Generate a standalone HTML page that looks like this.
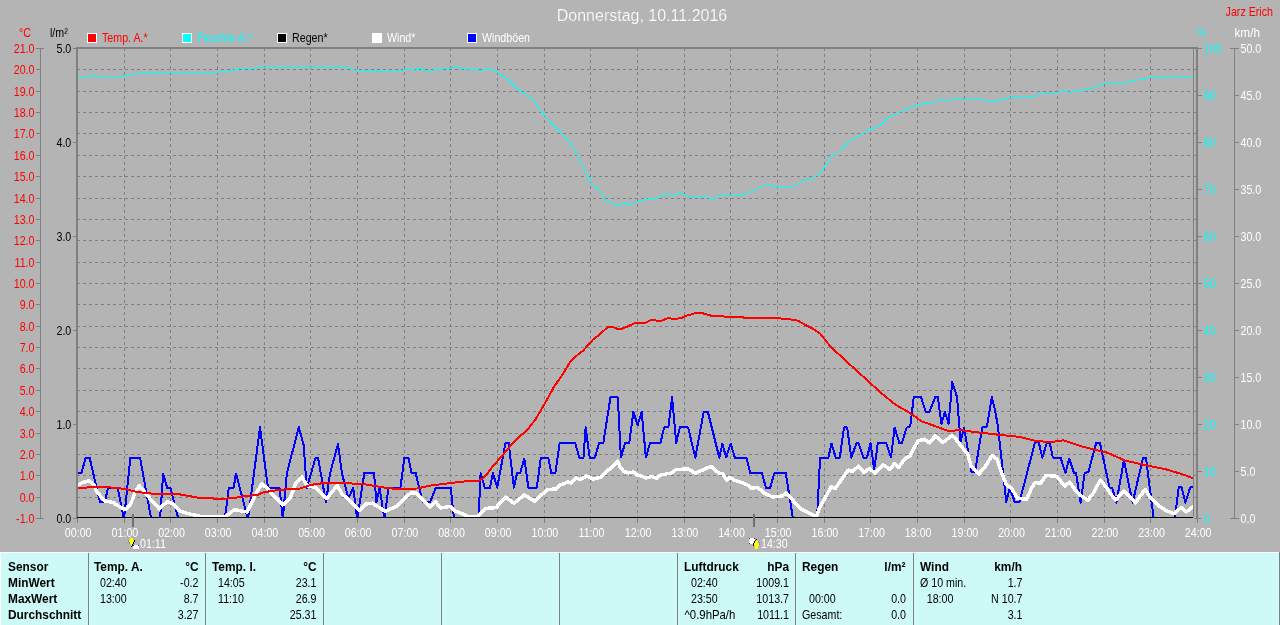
<!DOCTYPE html><html><head><meta charset="utf-8"><style>
html,body{margin:0;padding:0;background:#b4b4b4;width:1280px;height:625px;overflow:hidden}
svg{display:block;position:absolute;left:0;top:0;will-change:transform}
text{font-family:"Liberation Sans",sans-serif}
</style></head><body>
<svg width="1280" height="625" viewBox="0 0 1280 625">
<rect x="0" y="0" width="1280" height="625" fill="#b4b4b4"/>
<text x="642" y="21" text-anchor="middle" fill="#ffffff" stroke="#b4b4b4" stroke-width="0.2" style="font-size:16px">Donnerstag, 10.11.2016</text>
<text transform="translate(1273,16) scale(0.855,1)" text-anchor="end" fill="#ff0000" style="font-size:12.5px">Jarz Erich</text>
<text transform="translate(31,37) scale(0.855,1)" text-anchor="end" fill="#ff0000" style="font-size:12.5px">°C</text>
<text transform="translate(50,37) scale(0.855,1)" fill="#000000" style="font-size:12.5px">l/m²</text>
<text transform="translate(1197.5,37) scale(0.7,1)" fill="#00ffff" style="font-size:12.5px">%</text>
<text transform="translate(1234.5,37) scale(0.94,1)" fill="#ffffff" style="font-size:12.5px">km/h</text>
<rect x="87.5" y="33.5" width="9" height="9" fill="#ff0000" stroke="#ffffff" stroke-width="1" shape-rendering="crispEdges"/>
<text transform="translate(102,42) scale(0.855,1)" fill="#ff0000" style="font-size:12.5px">Temp. A.*</text>
<rect x="182.5" y="33.5" width="9" height="9" fill="#00ffff" stroke="#ffffff" stroke-width="1" shape-rendering="crispEdges"/>
<text transform="translate(197,42) scale(0.855,1)" fill="#00ffff" style="font-size:12.5px">Feuchte A.*</text>
<rect x="277.5" y="33.5" width="9" height="9" fill="#000000" stroke="#ffffff" stroke-width="1" shape-rendering="crispEdges"/>
<text transform="translate(292,42) scale(0.855,1)" fill="#000000" style="font-size:12.5px">Regen*</text>
<rect x="372.5" y="33.5" width="9" height="9" fill="#ffffff" stroke="#ffffff" stroke-width="1" shape-rendering="crispEdges"/>
<text transform="translate(387,42) scale(0.855,1)" fill="#ffffff" style="font-size:12.5px">Wind*</text>
<rect x="467.5" y="33.5" width="9" height="9" fill="#0000ff" stroke="#ffffff" stroke-width="1" shape-rendering="crispEdges"/>
<text transform="translate(482,42) scale(0.855,1)" fill="#ffffff" style="font-size:12.5px">Windböen</text>
<g shape-rendering="crispEdges"><line x1="77" y1="69.5" x2="1193" y2="69.5" stroke="#808080" stroke-dasharray="3 3"/><line x1="1193" y1="69.5" x2="1196" y2="69.5" stroke="#808080"/><line x1="77" y1="91.5" x2="1193" y2="91.5" stroke="#808080" stroke-dasharray="3 3"/><line x1="1193" y1="91.5" x2="1196" y2="91.5" stroke="#808080"/><line x1="77" y1="112.5" x2="1193" y2="112.5" stroke="#808080" stroke-dasharray="3 3"/><line x1="1193" y1="112.5" x2="1196" y2="112.5" stroke="#808080"/><line x1="77" y1="133.5" x2="1193" y2="133.5" stroke="#808080" stroke-dasharray="3 3"/><line x1="1193" y1="133.5" x2="1196" y2="133.5" stroke="#808080"/><line x1="77" y1="155.5" x2="1193" y2="155.5" stroke="#808080" stroke-dasharray="3 3"/><line x1="1193" y1="155.5" x2="1196" y2="155.5" stroke="#808080"/><line x1="77" y1="176.5" x2="1193" y2="176.5" stroke="#808080" stroke-dasharray="3 3"/><line x1="1193" y1="176.5" x2="1196" y2="176.5" stroke="#808080"/><line x1="77" y1="198.5" x2="1193" y2="198.5" stroke="#808080" stroke-dasharray="3 3"/><line x1="1193" y1="198.5" x2="1196" y2="198.5" stroke="#808080"/><line x1="77" y1="219.5" x2="1193" y2="219.5" stroke="#808080" stroke-dasharray="3 3"/><line x1="1193" y1="219.5" x2="1196" y2="219.5" stroke="#808080"/><line x1="77" y1="240.5" x2="1193" y2="240.5" stroke="#808080" stroke-dasharray="3 3"/><line x1="1193" y1="240.5" x2="1196" y2="240.5" stroke="#808080"/><line x1="77" y1="262.5" x2="1193" y2="262.5" stroke="#808080" stroke-dasharray="3 3"/><line x1="1193" y1="262.5" x2="1196" y2="262.5" stroke="#808080"/><line x1="77" y1="283.5" x2="1193" y2="283.5" stroke="#808080" stroke-dasharray="3 3"/><line x1="1193" y1="283.5" x2="1196" y2="283.5" stroke="#808080"/><line x1="77" y1="304.5" x2="1193" y2="304.5" stroke="#808080" stroke-dasharray="3 3"/><line x1="1193" y1="304.5" x2="1196" y2="304.5" stroke="#808080"/><line x1="77" y1="326.5" x2="1193" y2="326.5" stroke="#808080" stroke-dasharray="3 3"/><line x1="1193" y1="326.5" x2="1196" y2="326.5" stroke="#808080"/><line x1="77" y1="347.5" x2="1193" y2="347.5" stroke="#808080" stroke-dasharray="3 3"/><line x1="1193" y1="347.5" x2="1196" y2="347.5" stroke="#808080"/><line x1="77" y1="368.5" x2="1193" y2="368.5" stroke="#808080" stroke-dasharray="3 3"/><line x1="1193" y1="368.5" x2="1196" y2="368.5" stroke="#808080"/><line x1="77" y1="390.5" x2="1193" y2="390.5" stroke="#808080" stroke-dasharray="3 3"/><line x1="1193" y1="390.5" x2="1196" y2="390.5" stroke="#808080"/><line x1="77" y1="411.5" x2="1193" y2="411.5" stroke="#808080" stroke-dasharray="3 3"/><line x1="1193" y1="411.5" x2="1196" y2="411.5" stroke="#808080"/><line x1="77" y1="433.5" x2="1193" y2="433.5" stroke="#808080" stroke-dasharray="3 3"/><line x1="1193" y1="433.5" x2="1196" y2="433.5" stroke="#808080"/><line x1="77" y1="454.5" x2="1193" y2="454.5" stroke="#808080" stroke-dasharray="3 3"/><line x1="1193" y1="454.5" x2="1196" y2="454.5" stroke="#808080"/><line x1="77" y1="475.5" x2="1193" y2="475.5" stroke="#808080" stroke-dasharray="3 3"/><line x1="1193" y1="475.5" x2="1196" y2="475.5" stroke="#808080"/><line x1="77" y1="497.5" x2="1193" y2="497.5" stroke="#808080" stroke-dasharray="3 3"/><line x1="1193" y1="497.5" x2="1196" y2="497.5" stroke="#808080"/><line x1="124.5" y1="48" x2="124.5" y2="517" stroke="#808080" stroke-dasharray="3 3"/><line x1="170.5" y1="48" x2="170.5" y2="517" stroke="#808080" stroke-dasharray="3 3"/><line x1="217.5" y1="48" x2="217.5" y2="517" stroke="#808080" stroke-dasharray="3 3"/><line x1="264.5" y1="48" x2="264.5" y2="517" stroke="#808080" stroke-dasharray="3 3"/><line x1="310.5" y1="48" x2="310.5" y2="517" stroke="#808080" stroke-dasharray="3 3"/><line x1="357.5" y1="48" x2="357.5" y2="517" stroke="#808080" stroke-dasharray="3 3"/><line x1="404.5" y1="48" x2="404.5" y2="517" stroke="#808080" stroke-dasharray="3 3"/><line x1="450.5" y1="48" x2="450.5" y2="517" stroke="#808080" stroke-dasharray="3 3"/><line x1="497.5" y1="48" x2="497.5" y2="517" stroke="#808080" stroke-dasharray="3 3"/><line x1="544.5" y1="48" x2="544.5" y2="517" stroke="#808080" stroke-dasharray="3 3"/><line x1="590.5" y1="48" x2="590.5" y2="517" stroke="#808080" stroke-dasharray="3 3"/><line x1="637.5" y1="48" x2="637.5" y2="517" stroke="#808080" stroke-dasharray="3 3"/><line x1="684.5" y1="48" x2="684.5" y2="517" stroke="#808080" stroke-dasharray="3 3"/><line x1="730.5" y1="48" x2="730.5" y2="517" stroke="#808080" stroke-dasharray="3 3"/><line x1="777.5" y1="48" x2="777.5" y2="517" stroke="#808080" stroke-dasharray="3 3"/><line x1="824.5" y1="48" x2="824.5" y2="517" stroke="#808080" stroke-dasharray="3 3"/><line x1="870.5" y1="48" x2="870.5" y2="517" stroke="#808080" stroke-dasharray="3 3"/><line x1="917.5" y1="48" x2="917.5" y2="517" stroke="#808080" stroke-dasharray="3 3"/><line x1="964.5" y1="48" x2="964.5" y2="517" stroke="#808080" stroke-dasharray="3 3"/><line x1="1010.5" y1="48" x2="1010.5" y2="517" stroke="#808080" stroke-dasharray="3 3"/><line x1="1057.5" y1="48" x2="1057.5" y2="517" stroke="#808080" stroke-dasharray="3 3"/><line x1="1104.5" y1="48" x2="1104.5" y2="517" stroke="#808080" stroke-dasharray="3 3"/><line x1="1150.5" y1="48" x2="1150.5" y2="517" stroke="#808080" stroke-dasharray="3 3"/><line x1="77.5" y1="518" x2="77.5" y2="523" stroke="#808080"/><line x1="124.5" y1="518" x2="124.5" y2="523" stroke="#808080"/><line x1="170.5" y1="518" x2="170.5" y2="523" stroke="#808080"/><line x1="217.5" y1="518" x2="217.5" y2="523" stroke="#808080"/><line x1="264.5" y1="518" x2="264.5" y2="523" stroke="#808080"/><line x1="310.5" y1="518" x2="310.5" y2="523" stroke="#808080"/><line x1="357.5" y1="518" x2="357.5" y2="523" stroke="#808080"/><line x1="404.5" y1="518" x2="404.5" y2="523" stroke="#808080"/><line x1="450.5" y1="518" x2="450.5" y2="523" stroke="#808080"/><line x1="497.5" y1="518" x2="497.5" y2="523" stroke="#808080"/><line x1="544.5" y1="518" x2="544.5" y2="523" stroke="#808080"/><line x1="590.5" y1="518" x2="590.5" y2="523" stroke="#808080"/><line x1="637.5" y1="518" x2="637.5" y2="523" stroke="#808080"/><line x1="684.5" y1="518" x2="684.5" y2="523" stroke="#808080"/><line x1="730.5" y1="518" x2="730.5" y2="523" stroke="#808080"/><line x1="777.5" y1="518" x2="777.5" y2="523" stroke="#808080"/><line x1="824.5" y1="518" x2="824.5" y2="523" stroke="#808080"/><line x1="870.5" y1="518" x2="870.5" y2="523" stroke="#808080"/><line x1="917.5" y1="518" x2="917.5" y2="523" stroke="#808080"/><line x1="964.5" y1="518" x2="964.5" y2="523" stroke="#808080"/><line x1="1010.5" y1="518" x2="1010.5" y2="523" stroke="#808080"/><line x1="1057.5" y1="518" x2="1057.5" y2="523" stroke="#808080"/><line x1="1104.5" y1="518" x2="1104.5" y2="523" stroke="#808080"/><line x1="1150.5" y1="518" x2="1150.5" y2="523" stroke="#808080"/><line x1="1197.5" y1="518" x2="1197.5" y2="523" stroke="#808080"/><rect x="76" y="47" width="1122" height="2" fill="#808080"/><rect x="76" y="47" width="2" height="471" fill="#808080"/><rect x="1196" y="47" width="2" height="471" fill="#808080"/><rect x="1193" y="49" width="1" height="468" fill="#808080"/><rect x="40" y="48" width="1" height="470" fill="#808080"/><rect x="36" y="48" width="8" height="1" fill="#808080"/><rect x="36" y="69" width="5" height="1" fill="#808080"/><rect x="36" y="91" width="5" height="1" fill="#808080"/><rect x="36" y="112" width="5" height="1" fill="#808080"/><rect x="36" y="133" width="5" height="1" fill="#808080"/><rect x="36" y="155" width="5" height="1" fill="#808080"/><rect x="36" y="176" width="5" height="1" fill="#808080"/><rect x="36" y="198" width="5" height="1" fill="#808080"/><rect x="36" y="219" width="5" height="1" fill="#808080"/><rect x="36" y="240" width="5" height="1" fill="#808080"/><rect x="36" y="262" width="5" height="1" fill="#808080"/><rect x="36" y="283" width="5" height="1" fill="#808080"/><rect x="36" y="304" width="5" height="1" fill="#808080"/><rect x="36" y="326" width="5" height="1" fill="#808080"/><rect x="36" y="347" width="5" height="1" fill="#808080"/><rect x="36" y="368" width="5" height="1" fill="#808080"/><rect x="36" y="390" width="5" height="1" fill="#808080"/><rect x="36" y="411" width="5" height="1" fill="#808080"/><rect x="36" y="433" width="5" height="1" fill="#808080"/><rect x="36" y="454" width="5" height="1" fill="#808080"/><rect x="36" y="475" width="5" height="1" fill="#808080"/><rect x="36" y="497" width="5" height="1" fill="#808080"/><rect x="36" y="518" width="8" height="1" fill="#808080"/><rect x="73" y="48" width="4" height="1" fill="#808080"/><rect x="73" y="142" width="4" height="1" fill="#808080"/><rect x="73" y="236" width="4" height="1" fill="#808080"/><rect x="73" y="330" width="4" height="1" fill="#808080"/><rect x="73" y="424" width="4" height="1" fill="#808080"/><rect x="73" y="518" width="4" height="1" fill="#808080"/><rect x="1198" y="48" width="4" height="1" fill="#808080"/><rect x="1198" y="95" width="4" height="1" fill="#808080"/><rect x="1198" y="142" width="4" height="1" fill="#808080"/><rect x="1198" y="189" width="4" height="1" fill="#808080"/><rect x="1198" y="236" width="4" height="1" fill="#808080"/><rect x="1198" y="283" width="4" height="1" fill="#808080"/><rect x="1198" y="330" width="4" height="1" fill="#808080"/><rect x="1198" y="377" width="4" height="1" fill="#808080"/><rect x="1198" y="424" width="4" height="1" fill="#808080"/><rect x="1198" y="471" width="4" height="1" fill="#808080"/><rect x="1194" y="518" width="7" height="1" fill="#808080"/><rect x="1234" y="48" width="1" height="470" fill="#808080"/><rect x="1230" y="48" width="9" height="1" fill="#808080"/><rect x="1234" y="95" width="5" height="1" fill="#808080"/><rect x="1234" y="142" width="5" height="1" fill="#808080"/><rect x="1234" y="189" width="5" height="1" fill="#808080"/><rect x="1234" y="236" width="5" height="1" fill="#808080"/><rect x="1234" y="283" width="5" height="1" fill="#808080"/><rect x="1234" y="330" width="5" height="1" fill="#808080"/><rect x="1234" y="377" width="5" height="1" fill="#808080"/><rect x="1234" y="424" width="5" height="1" fill="#808080"/><rect x="1234" y="471" width="5" height="1" fill="#808080"/><rect x="1230" y="518" width="9" height="1" fill="#808080"/></g>
<text transform="translate(34.5,53) scale(0.855,1)" text-anchor="end" fill="#ff0000" style="font-size:12.5px">21.0</text><text transform="translate(34.5,74) scale(0.855,1)" text-anchor="end" fill="#ff0000" style="font-size:12.5px">20.0</text><text transform="translate(34.5,96) scale(0.855,1)" text-anchor="end" fill="#ff0000" style="font-size:12.5px">19.0</text><text transform="translate(34.5,117) scale(0.855,1)" text-anchor="end" fill="#ff0000" style="font-size:12.5px">18.0</text><text transform="translate(34.5,138) scale(0.855,1)" text-anchor="end" fill="#ff0000" style="font-size:12.5px">17.0</text><text transform="translate(34.5,160) scale(0.855,1)" text-anchor="end" fill="#ff0000" style="font-size:12.5px">16.0</text><text transform="translate(34.5,181) scale(0.855,1)" text-anchor="end" fill="#ff0000" style="font-size:12.5px">15.0</text><text transform="translate(34.5,203) scale(0.855,1)" text-anchor="end" fill="#ff0000" style="font-size:12.5px">14.0</text><text transform="translate(34.5,224) scale(0.855,1)" text-anchor="end" fill="#ff0000" style="font-size:12.5px">13.0</text><text transform="translate(34.5,245) scale(0.855,1)" text-anchor="end" fill="#ff0000" style="font-size:12.5px">12.0</text><text transform="translate(34.5,267) scale(0.855,1)" text-anchor="end" fill="#ff0000" style="font-size:12.5px">11.0</text><text transform="translate(34.5,288) scale(0.855,1)" text-anchor="end" fill="#ff0000" style="font-size:12.5px">10.0</text><text transform="translate(34.5,309) scale(0.855,1)" text-anchor="end" fill="#ff0000" style="font-size:12.5px">9.0</text><text transform="translate(34.5,331) scale(0.855,1)" text-anchor="end" fill="#ff0000" style="font-size:12.5px">8.0</text><text transform="translate(34.5,352) scale(0.855,1)" text-anchor="end" fill="#ff0000" style="font-size:12.5px">7.0</text><text transform="translate(34.5,373) scale(0.855,1)" text-anchor="end" fill="#ff0000" style="font-size:12.5px">6.0</text><text transform="translate(34.5,395) scale(0.855,1)" text-anchor="end" fill="#ff0000" style="font-size:12.5px">5.0</text><text transform="translate(34.5,416) scale(0.855,1)" text-anchor="end" fill="#ff0000" style="font-size:12.5px">4.0</text><text transform="translate(34.5,438) scale(0.855,1)" text-anchor="end" fill="#ff0000" style="font-size:12.5px">3.0</text><text transform="translate(34.5,459) scale(0.855,1)" text-anchor="end" fill="#ff0000" style="font-size:12.5px">2.0</text><text transform="translate(34.5,480) scale(0.855,1)" text-anchor="end" fill="#ff0000" style="font-size:12.5px">1.0</text><text transform="translate(34.5,502) scale(0.855,1)" text-anchor="end" fill="#ff0000" style="font-size:12.5px">0.0</text><text transform="translate(34.5,523) scale(0.855,1)" text-anchor="end" fill="#ff0000" style="font-size:12.5px">-1.0</text><text transform="translate(71.3,53) scale(0.855,1)" text-anchor="end" fill="#000000" style="font-size:12.5px">5.0</text><text transform="translate(71.3,147) scale(0.855,1)" text-anchor="end" fill="#000000" style="font-size:12.5px">4.0</text><text transform="translate(71.3,241) scale(0.855,1)" text-anchor="end" fill="#000000" style="font-size:12.5px">3.0</text><text transform="translate(71.3,335) scale(0.855,1)" text-anchor="end" fill="#000000" style="font-size:12.5px">2.0</text><text transform="translate(71.3,429) scale(0.855,1)" text-anchor="end" fill="#000000" style="font-size:12.5px">1.0</text><text transform="translate(71.3,523) scale(0.855,1)" text-anchor="end" fill="#000000" style="font-size:12.5px">0.0</text><text transform="translate(1203.5,53) scale(0.855,1)" fill="#00ffff" style="font-size:12.5px">100</text><text transform="translate(1240.5,53) scale(0.855,1)" fill="#ffffff" style="font-size:12.5px">50.0</text><text transform="translate(1203.5,100) scale(0.855,1)" fill="#00ffff" style="font-size:12.5px">90</text><text transform="translate(1240.5,100) scale(0.855,1)" fill="#ffffff" style="font-size:12.5px">45.0</text><text transform="translate(1203.5,147) scale(0.855,1)" fill="#00ffff" style="font-size:12.5px">80</text><text transform="translate(1240.5,147) scale(0.855,1)" fill="#ffffff" style="font-size:12.5px">40.0</text><text transform="translate(1203.5,194) scale(0.855,1)" fill="#00ffff" style="font-size:12.5px">70</text><text transform="translate(1240.5,194) scale(0.855,1)" fill="#ffffff" style="font-size:12.5px">35.0</text><text transform="translate(1203.5,241) scale(0.855,1)" fill="#00ffff" style="font-size:12.5px">60</text><text transform="translate(1240.5,241) scale(0.855,1)" fill="#ffffff" style="font-size:12.5px">30.0</text><text transform="translate(1203.5,288) scale(0.855,1)" fill="#00ffff" style="font-size:12.5px">50</text><text transform="translate(1240.5,288) scale(0.855,1)" fill="#ffffff" style="font-size:12.5px">25.0</text><text transform="translate(1203.5,335) scale(0.855,1)" fill="#00ffff" style="font-size:12.5px">40</text><text transform="translate(1240.5,335) scale(0.855,1)" fill="#ffffff" style="font-size:12.5px">20.0</text><text transform="translate(1203.5,382) scale(0.855,1)" fill="#00ffff" style="font-size:12.5px">30</text><text transform="translate(1240.5,382) scale(0.855,1)" fill="#ffffff" style="font-size:12.5px">15.0</text><text transform="translate(1203.5,429) scale(0.855,1)" fill="#00ffff" style="font-size:12.5px">20</text><text transform="translate(1240.5,429) scale(0.855,1)" fill="#ffffff" style="font-size:12.5px">10.0</text><text transform="translate(1203.5,476) scale(0.855,1)" fill="#00ffff" style="font-size:12.5px">10</text><text transform="translate(1240.5,476) scale(0.855,1)" fill="#ffffff" style="font-size:12.5px">5.0</text><text transform="translate(1203.5,523) scale(0.855,1)" fill="#00ffff" style="font-size:12.5px">0</text><text transform="translate(1240.5,523) scale(0.855,1)" fill="#ffffff" style="font-size:12.5px">0.0</text><text transform="translate(78.2,537) scale(0.855,1)" text-anchor="middle" fill="#ffffff" style="font-size:12.5px">00:00</text><text transform="translate(124.9,537) scale(0.855,1)" text-anchor="middle" fill="#ffffff" style="font-size:12.5px">01:00</text><text transform="translate(171.5,537) scale(0.855,1)" text-anchor="middle" fill="#ffffff" style="font-size:12.5px">02:00</text><text transform="translate(218.2,537) scale(0.855,1)" text-anchor="middle" fill="#ffffff" style="font-size:12.5px">03:00</text><text transform="translate(264.9,537) scale(0.855,1)" text-anchor="middle" fill="#ffffff" style="font-size:12.5px">04:00</text><text transform="translate(311.5,537) scale(0.855,1)" text-anchor="middle" fill="#ffffff" style="font-size:12.5px">05:00</text><text transform="translate(358.2,537) scale(0.855,1)" text-anchor="middle" fill="#ffffff" style="font-size:12.5px">06:00</text><text transform="translate(404.9,537) scale(0.855,1)" text-anchor="middle" fill="#ffffff" style="font-size:12.5px">07:00</text><text transform="translate(451.5,537) scale(0.855,1)" text-anchor="middle" fill="#ffffff" style="font-size:12.5px">08:00</text><text transform="translate(498.2,537) scale(0.855,1)" text-anchor="middle" fill="#ffffff" style="font-size:12.5px">09:00</text><text transform="translate(544.9,537) scale(0.855,1)" text-anchor="middle" fill="#ffffff" style="font-size:12.5px">10:00</text><text transform="translate(591.5,537) scale(0.855,1)" text-anchor="middle" fill="#ffffff" style="font-size:12.5px">11:00</text><text transform="translate(638.2,537) scale(0.855,1)" text-anchor="middle" fill="#ffffff" style="font-size:12.5px">12:00</text><text transform="translate(684.9,537) scale(0.855,1)" text-anchor="middle" fill="#ffffff" style="font-size:12.5px">13:00</text><text transform="translate(731.5,537) scale(0.855,1)" text-anchor="middle" fill="#ffffff" style="font-size:12.5px">14:00</text><text transform="translate(778.2,537) scale(0.855,1)" text-anchor="middle" fill="#ffffff" style="font-size:12.5px">15:00</text><text transform="translate(824.9,537) scale(0.855,1)" text-anchor="middle" fill="#ffffff" style="font-size:12.5px">16:00</text><text transform="translate(871.5,537) scale(0.855,1)" text-anchor="middle" fill="#ffffff" style="font-size:12.5px">17:00</text><text transform="translate(918.2,537) scale(0.855,1)" text-anchor="middle" fill="#ffffff" style="font-size:12.5px">18:00</text><text transform="translate(964.9,537) scale(0.855,1)" text-anchor="middle" fill="#ffffff" style="font-size:12.5px">19:00</text><text transform="translate(1011.5,537) scale(0.855,1)" text-anchor="middle" fill="#ffffff" style="font-size:12.5px">20:00</text><text transform="translate(1058.2,537) scale(0.855,1)" text-anchor="middle" fill="#ffffff" style="font-size:12.5px">21:00</text><text transform="translate(1104.9,537) scale(0.855,1)" text-anchor="middle" fill="#ffffff" style="font-size:12.5px">22:00</text><text transform="translate(1151.5,537) scale(0.855,1)" text-anchor="middle" fill="#ffffff" style="font-size:12.5px">23:00</text><text transform="translate(1198.2,537) scale(0.855,1)" text-anchor="middle" fill="#ffffff" style="font-size:12.5px">24:00</text>
<defs><clipPath id="pc"><rect x="78" y="49" width="1115" height="468"/></clipPath></defs>
<g clip-path="url(#pc)" shape-rendering="crispEdges">
<polyline fill="none" stroke="#00ffff" stroke-width="1" stroke-linejoin="round" stroke-linecap="round"  points="78.0,76.5 91.0,76.5 92.0,75.5 95.0,75.5 96.0,76.5 124.0,76.5 125.0,75.5 130.0,74.5 135.0,75.0 137.0,73.5 152.0,73.5 153.0,72.5 218.0,72.5 220.0,71.5 224.0,70.5 228.0,71.2 232.0,70.5 237.0,69.5 240.0,68.5 254.0,68.5 256.0,67.5 347.0,67.5 350.0,68.5 353.0,69.3 356.0,70.4 368.0,70.4 369.0,71.5 401.0,71.5 402.0,70.4 406.0,69.3 414.0,69.3 416.0,70.4 418.0,68.5 421.0,68.5 422.0,69.3 424.5,69.3 425.0,70.4 433.0,70.4 434.0,69.3 441.0,69.3 442.0,68.5 451.0,68.5 452.0,67.5 460.0,67.5 461.0,69.3 463.0,68.5 468.0,68.5 469.0,69.3 478.0,69.3 479.0,70.4 482.0,70.4 483.0,69.3 492.3,69.3 500.0,74.0 507.7,79.2 517.9,89.4 532.0,98.4 541.0,111.2 551.2,122.7 561.4,133.0 573.0,147.0 582.0,165.0 592.0,184.2 601.0,191.8 606.2,202.0 610.0,201.3 615.2,205.4 619.0,205.4 625.4,202.6 629.3,205.4 635.7,202.0 648.5,199.0 656.0,198.2 666.4,193.6 674.0,195.2 680.5,193.1 689.5,197.0 699.6,196.5 709.2,198.0 715.0,198.4 718.8,195.6 732.2,195.6 741.8,196.0 747.6,193.3 756.2,188.8 765.8,185.0 770.6,185.4 778.3,187.5 794.6,186.0 805.2,179.3 812.8,178.3 818.6,174.5 824.4,167.7 831.0,156.2 835.9,155.3 849.3,140.9 859.0,136.0 869.5,129.3 879.0,126.5 887.5,118.0 892.5,116.2 900.0,111.9 905.0,109.4 910.0,108.1 917.5,105.0 927.5,102.5 933.8,102.5 940.0,99.4 943.8,100.2 948.8,100.2 952.5,98.4 958.0,98.4 960.0,99.5 983.8,99.5 987.5,101.2 998.8,100.2 1003.0,98.4 1006.0,99.5 1012.5,97.2 1020.0,96.5 1035.0,96.5 1038.0,94.3 1043.3,93.2 1046.0,94.3 1051.2,92.3 1058.0,92.3 1060.5,91.3 1067.2,91.3 1069.4,93.0 1072.5,91.3 1081.0,91.3 1083.8,89.2 1089.8,89.2 1096.4,86.3 1103.0,84.3 1107.0,83.4 1113.0,83.4 1115.0,82.3 1127.6,82.3 1131.0,80.3 1134.2,81.2 1139.0,79.4 1144.9,79.4 1146.2,78.3 1152.2,77.3 1160.0,77.3 1162.0,78.3 1164.8,77.3 1186.7,77.3 1188.0,76.3 1192.7,76.3"/>
<polyline fill="none" stroke="#0000ff" stroke-width="2" stroke-linejoin="round" stroke-linecap="round"  points="77.6,472.8 81.6,472.8 85.6,457.6 89.6,457.6 100.0,502.4 104.8,502.4 108.0,487.8 117.6,487.8 124.0,519.0 130.4,457.6 140.0,457.6 151.2,519.0 160.0,519.0 163.2,473.6 167.2,488.0 170.4,488.0 178.4,519.0 224.8,519.0 228.8,488.0 233.6,488.0 236.0,473.6 248.0,519.0 260.0,427.2 268.0,488.0 279.6,488.0 282.8,519.0 286.8,473.6 298.8,427.2 303.6,444.8 306.8,488.0 315.6,457.6 318.0,457.6 326.0,502.4 330.0,473.6 338.0,444.0 342.0,473.6 348.4,498.4 353.2,488.0 357.2,519.0 364.4,472.8 374.0,472.8 376.4,502.4 379.6,488.0 384.4,519.0 388.4,488.0 400.4,488.0 404.4,457.6 408.4,457.6 411.6,472.8 415.6,472.8 422.8,502.4 430.0,502.4 435.6,488.0 450.8,488.0 454.0,519.0 478.5,519.0 480.6,473.2 484.8,487.7 490.0,487.7 493.0,473.2 497.2,487.7 505.5,443.0 508.7,443.0 513.9,487.7 517.0,473.2 520.1,473.2 524.3,458.6 528.4,487.7 536.7,487.7 540.9,457.6 548.2,457.6 551.3,473.2 555.4,473.2 559.6,443.0 575.2,443.0 579.3,457.6 583.5,457.6 585.6,427.4 589.7,457.6 594.9,457.6 599.1,443.0 603.3,443.0 610.5,397.3 617.8,397.3 620.9,457.6 625.1,443.0 629.2,443.0 633.4,411.8 637.6,425.3 641.7,411.8 645.9,457.6 650.0,443.0 660.4,443.0 664.2,427.4 668.3,427.4 672.1,397.3 676.2,443.0 679.8,427.4 688.1,427.4 695.3,457.6 703.7,411.8 707.8,411.8 719.3,457.6 722.4,443.6 726.1,457.6 730.7,443.6 734.8,457.6 746.3,457.6 750.4,473.2 761.9,473.2 766.0,487.7 770.2,487.7 774.3,473.2 785.8,473.2 793.0,519.0 817.0,519.0 820.1,457.6 828.4,457.6 831.5,443.6 835.7,457.6 839.8,457.6 844.0,427.4 847.1,427.4 851.3,457.6 856.5,443.0 858.6,443.2 863.4,457.6 867.0,457.6 870.6,443.2 874.2,469.6 877.8,443.2 886.2,443.2 891.0,457.6 894.6,427.6 899.4,443.2 901.8,443.2 906.6,427.6 910.2,426.4 913.8,396.9 921.0,396.9 925.8,412.0 929.4,412.0 935.4,396.9 937.8,396.9 941.4,424.0 945.0,412.0 948.6,424.0 952.2,382.0 957.0,396.9 960.6,442.0 964.2,427.6 971.4,472.0 975.0,472.0 982.2,427.6 987.0,426.4 991.8,396.9 995.4,412.0 997.9,426.4 1006.3,502.0 1009.9,487.6 1014.7,502.0 1019.5,502.0 1035.1,442.0 1038.7,442.0 1042.3,457.6 1047.1,442.0 1050.0,444.2 1052.9,457.6 1060.6,457.6 1065.4,473.0 1069.2,458.6 1074.0,473.0 1076.0,473.0 1080.7,502.7 1084.6,473.0 1088.4,472.0 1096.1,443.2 1100.0,443.2 1109.5,487.4 1112.4,488.3 1116.3,502.7 1123.9,460.5 1132.6,502.7 1143.1,457.6 1146.0,457.6 1153.7,519.0 1174.8,519.0 1178.7,487.4 1181.6,487.4 1185.4,502.7 1190.2,487.4 1193.6,487.4"/>
<polyline fill="none" stroke="#ffffff" stroke-width="3.5" stroke-linejoin="round" stroke-linecap="round"  points="77.3,485.6 82.4,482.4 88.8,481.0 93.6,484.0 96.8,492.0 104.8,500.8 112.8,502.4 119.2,506.4 125.6,509.6 130.4,504.8 135.2,492.0 139.2,485.6 143.2,490.4 151.2,500.0 159.2,508.8 167.2,501.6 172.0,503.2 180.0,511.2 191.2,514.4 204.0,517.0 224.8,517.0 234.4,509.6 247.2,512.0 255.2,495.2 261.6,484.0 268.0,488.8 270.0,492.0 282.8,504.8 290.8,496.8 295.6,483.2 302.0,476.8 306.8,485.6 314.8,487.2 326.8,498.4 337.2,485.6 342.0,493.6 359.6,510.4 366.0,504.0 372.4,503.2 385.2,511.2 396.4,506.4 410.8,492.8 415.6,492.8 430.0,507.2 435.6,501.6 440.4,508.0 450.0,506.4 455.6,511.2 470.0,517.0 477.5,517.0 485.8,508.5 496.2,507.5 505.5,497.0 513.9,503.3 524.3,495.0 534.6,501.2 547.1,489.8 556.5,488.8 560.0,485.2 568.0,482.0 571.2,483.2 576.0,478.0 580.0,479.6 586.4,476.0 593.6,479.2 601.6,476.8 606.4,471.2 610.4,468.8 617.6,461.2 620.4,467.6 624.0,471.6 628.8,472.8 633.6,472.0 636.8,474.8 640.0,475.6 646.0,478.0 652.0,476.4 656.4,478.4 660.0,475.2 672.0,472.8 676.0,469.6 683.2,469.2 688.8,469.2 695.2,473.2 711.2,466.4 716.8,471.6 720.0,473.4 722.9,473.9 726.7,480.2 730.1,477.3 734.4,480.2 746.9,484.5 751.7,488.3 757.4,487.4 765.1,493.6 772.8,497.0 782.4,496.0 785.7,493.1 792.9,500.3 800.6,509.0 810.0,513.3 816.2,517.0 820.1,506.5 825.7,497.0 831.3,486.4 835.2,488.6 841.4,479.7 848.1,470.2 852.6,471.3 858.7,466.2 863.8,472.4 869.4,468.5 875.0,473.0 883.3,464.8 889.7,469.3 894.8,463.5 898.7,467.4 905.1,458.4 909.6,456.5 913.4,449.4 917.9,441.1 924.3,439.2 929.4,443.0 935.2,436.0 942.8,442.4 951.8,436.0 955.0,437.9 961.4,446.6 967.8,454.3 971.0,465.8 978.7,474.2 985.7,465.8 992.1,455.6 997.2,459.4 1002.4,474.8 1006.2,484.4 1011.3,488.2 1017.7,498.5 1026.7,499.1 1031.8,487.6 1035.0,482.6 1040.8,483.0 1046.0,475.4 1056.6,476.3 1064.8,486.0 1069.6,482.1 1076.3,491.7 1080.1,495.0 1087.8,500.3 1093.6,492.7 1100.3,480.2 1106.1,486.9 1110.0,493.1 1115.8,499.9 1123.9,491.2 1135.5,502.7 1145.1,489.3 1150.3,497.5 1158.0,505.1 1165.7,510.4 1173.9,513.8 1181.1,507.6 1186.4,511.9 1193.6,506.1"/>
<polyline fill="none" stroke="#ff0000" stroke-width="2" stroke-linejoin="round" stroke-linecap="round"  points="77.3,488.5 92.0,487.0 108.0,487.2 124.0,488.8 136.8,492.0 156.0,494.0 180.0,494.4 197.6,497.6 216.8,498.7 232.8,498.4 244.0,496.0 256.8,495.2 263.2,492.3 276.0,490.4 282.8,489.6 298.8,488.8 311.6,484.8 326.0,482.7 345.2,483.2 362.8,484.0 382.0,487.2 394.8,488.8 417.2,488.5 430.0,485.6 449.2,483.2 470.0,480.8 479.6,480.5 486.0,475.2 494.0,464.8 501.2,456.8 510.0,446.4 521.2,435.2 526.8,430.4 535.7,419.1 547.0,399.6 554.1,386.7 562.3,375.0 570.5,361.4 577.5,355.0 583.4,350.4 592.7,339.8 598.6,335.2 608.0,327.0 612.7,327.0 617.3,328.8 622.0,328.8 629.0,325.8 636.0,322.7 645.5,322.7 651.3,320.0 660.7,321.0 667.7,318.3 674.8,318.7 680.6,318.3 686.5,315.7 694.7,313.4 701.7,313.0 712.3,316.0 722.8,316.0 725.1,316.9 741.5,316.9 743.9,317.6 755.6,318.3 766.2,318.3 768.5,317.6 772.0,318.3 788.4,318.7 790.8,319.5 797.8,320.6 804.8,324.6 811.9,328.1 820.0,333.5 830.6,346.7 841.1,356.4 852.6,367.0 871.0,383.7 881.6,393.4 895.7,404.8 908.0,411.8 922.1,421.5 934.5,425.9 948.6,431.2 960.0,430.0 975.0,432.0 999.0,434.8 1018.3,436.7 1035.1,440.8 1050.0,442.2 1063.4,440.3 1080.7,446.1 1107.6,452.8 1124.9,460.5 1146.0,465.3 1165.2,469.1 1184.4,474.9 1193.6,478.7"/>
</g>
<rect x="77" y="517" width="1116" height="1" fill="#000" shape-rendering="crispEdges"/>
<rect x="132" y="514" width="2" height="13" fill="#707070" shape-rendering="crispEdges"/>
<rect x="753" y="514" width="2" height="13" fill="#707070" shape-rendering="crispEdges"/>
<text transform="translate(140,548) scale(0.855,1)" fill="#ffffff" style="font-size:12.5px">01:11</text>
<text transform="translate(761,548) scale(0.855,1)" fill="#ffffff" style="font-size:12.5px">14:30</text>
<g shape-rendering="crispEdges"><rect x="134" y="545" width="4" height="1" fill="#ffffff"/><rect x="133" y="546" width="6" height="3" fill="#ffffff"/><rect x="133" y="545" width="1" height="1" fill="#2020c0"/><rect x="138" y="545" width="1" height="1" fill="#2020c0"/><rect x="130" y="538" width="3" height="2" fill="#ffff00"/><rect x="129" y="540" width="6" height="2" fill="#ffff00"/><rect x="130" y="542" width="4" height="2" fill="#ffff00"/><rect x="131" y="544" width="2" height="2" fill="#ffff00"/><rect x="131" y="546" width="1" height="1" fill="#ffff00"/><rect x="134" y="540" width="1" height="2" fill="#000000"/><rect x="133" y="542" width="1" height="2" fill="#000000"/><rect x="132" y="544" width="1" height="2" fill="#000000"/><rect x="131" y="546" width="1" height="1" fill="#000000"/><rect x="128" y="540" width="1" height="2" fill="#8080e0"/><rect x="129" y="542" width="1" height="2" fill="#8080e0"/><circle cx="752" cy="541" r="3.1" fill="#ffffff"/><rect x="749" y="538" width="1" height="1" fill="#2020c0"/><rect x="754" y="538" width="1" height="1" fill="#2020c0"/><rect x="749" y="543" width="1" height="1" fill="#2020c0"/><rect x="756" y="540" width="1" height="1" fill="#ffff00"/><rect x="755" y="541" width="3" height="2" fill="#ffff00"/><rect x="754" y="543" width="5" height="2" fill="#ffff00"/><rect x="754" y="545" width="5" height="1" fill="#ffff00"/><rect x="755" y="546" width="3" height="3" fill="#ffff00"/><rect x="756" y="539" width="1" height="1" fill="#000000"/><rect x="755" y="540" width="1" height="1" fill="#000000"/><rect x="754" y="541" width="1" height="2" fill="#000000"/><rect x="753" y="543" width="1" height="2" fill="#000000"/><rect x="753" y="545" width="1" height="1" fill="#000000"/><rect x="759" y="543" width="1" height="2" fill="#8080e0"/><rect x="758" y="541" width="1" height="2" fill="#8080e0"/></g>
<g shape-rendering="crispEdges"><rect x="0" y="552" width="1280" height="73" fill="#cdf9f7"/><rect x="0" y="552" width="1279" height="1" fill="#ffffff"/><rect x="0" y="552" width="1" height="73" fill="#ffffff"/><rect x="1279" y="552" width="1" height="73" fill="#808080"/><rect x="88" y="553" width="1" height="72" fill="#808080"/><rect x="205" y="553" width="1" height="72" fill="#808080"/><rect x="323" y="553" width="1" height="72" fill="#808080"/><rect x="441" y="553" width="1" height="72" fill="#808080"/><rect x="559" y="553" width="1" height="72" fill="#808080"/><rect x="677" y="553" width="1" height="72" fill="#808080"/><rect x="795" y="553" width="1" height="72" fill="#808080"/><rect x="913" y="553" width="1" height="72" fill="#808080"/></g>
<text transform="translate(8,571) scale(0.99,1)" fill="#000000" style="font-size:12px;font-weight:bold">Sensor</text>
<text transform="translate(8,587) scale(0.99,1)" fill="#000000" style="font-size:12px;font-weight:bold">MinWert</text>
<text transform="translate(8,603) scale(0.99,1)" fill="#000000" style="font-size:12px;font-weight:bold">MaxWert</text>
<text transform="translate(8,619) scale(0.99,1)" fill="#000000" style="font-size:12px;font-weight:bold">Durchschnitt</text>
<text transform="translate(94,571) scale(0.99,1)" fill="#000000" style="font-size:12px;font-weight:bold">Temp. A.</text>
<text transform="translate(198.5,571) scale(0.99,1)" text-anchor="end" fill="#000000" style="font-size:12px;font-weight:bold">°C</text>
<text transform="translate(100,587) scale(0.855,1)" fill="#000000" style="font-size:12.5px">02:40</text>
<text transform="translate(198.5,587) scale(0.855,1)" text-anchor="end" fill="#000000" style="font-size:12.5px">-0.2</text>
<text transform="translate(100,603) scale(0.855,1)" fill="#000000" style="font-size:12.5px">13:00</text>
<text transform="translate(198.5,603) scale(0.855,1)" text-anchor="end" fill="#000000" style="font-size:12.5px">8.7</text>
<text transform="translate(198.5,619) scale(0.855,1)" text-anchor="end" fill="#000000" style="font-size:12.5px">3.27</text>
<text transform="translate(212,571) scale(0.99,1)" fill="#000000" style="font-size:12px;font-weight:bold">Temp. I.</text>
<text transform="translate(316.5,571) scale(0.99,1)" text-anchor="end" fill="#000000" style="font-size:12px;font-weight:bold">°C</text>
<text transform="translate(218,587) scale(0.855,1)" fill="#000000" style="font-size:12.5px">14:05</text>
<text transform="translate(316.5,587) scale(0.855,1)" text-anchor="end" fill="#000000" style="font-size:12.5px">23.1</text>
<text transform="translate(218,603) scale(0.855,1)" fill="#000000" style="font-size:12.5px">11:10</text>
<text transform="translate(316.5,603) scale(0.855,1)" text-anchor="end" fill="#000000" style="font-size:12.5px">26.9</text>
<text transform="translate(316.5,619) scale(0.855,1)" text-anchor="end" fill="#000000" style="font-size:12.5px">25.31</text>
<text transform="translate(684,571) scale(0.99,1)" fill="#000000" style="font-size:12px;font-weight:bold">Luftdruck</text>
<text transform="translate(789,571) scale(0.99,1)" text-anchor="end" fill="#000000" style="font-size:12px;font-weight:bold">hPa</text>
<text transform="translate(691,587) scale(0.855,1)" fill="#000000" style="font-size:12.5px">02:40</text>
<text transform="translate(789,587) scale(0.855,1)" text-anchor="end" fill="#000000" style="font-size:12.5px">1009.1</text>
<text transform="translate(691,603) scale(0.855,1)" fill="#000000" style="font-size:12.5px">23:50</text>
<text transform="translate(789,603) scale(0.855,1)" text-anchor="end" fill="#000000" style="font-size:12.5px">1013.7</text>
<text transform="translate(684.5,619) scale(0.91,1)" fill="#000000" style="font-size:12.5px">^0.9hPa/h</text>
<text transform="translate(789,619) scale(0.855,1)" text-anchor="end" fill="#000000" style="font-size:12.5px">1011.1</text>
<text transform="translate(802,571) scale(0.99,1)" fill="#000000" style="font-size:12px;font-weight:bold">Regen</text>
<text transform="translate(905.5,571) scale(0.99,1)" text-anchor="end" fill="#000000" style="font-size:12px;font-weight:bold">l/m²</text>
<text transform="translate(809,603) scale(0.855,1)" fill="#000000" style="font-size:12.5px">00:00</text>
<text transform="translate(906,603) scale(0.855,1)" text-anchor="end" fill="#000000" style="font-size:12.5px">0.0</text>
<text transform="translate(802,619) scale(0.855,1)" fill="#000000" style="font-size:12.5px">Gesamt:</text>
<text transform="translate(906,619) scale(0.855,1)" text-anchor="end" fill="#000000" style="font-size:12.5px">0.0</text>
<text transform="translate(920,571) scale(0.99,1)" fill="#000000" style="font-size:12px;font-weight:bold">Wind</text>
<text transform="translate(1022,571) scale(0.99,1)" text-anchor="end" fill="#000000" style="font-size:12px;font-weight:bold">km/h</text>
<text transform="translate(920,587) scale(0.855,1)" fill="#000000" style="font-size:12.5px">Ø 10 min.</text>
<text transform="translate(1022.5,587) scale(0.855,1)" text-anchor="end" fill="#000000" style="font-size:12.5px">1.7</text>
<text transform="translate(926.7,603) scale(0.855,1)" fill="#000000" style="font-size:12.5px">18:00</text>
<text transform="translate(1022.5,603) scale(0.855,1)" text-anchor="end" fill="#000000" style="font-size:12.5px">N 10.7</text>
<text transform="translate(1022.5,619) scale(0.855,1)" text-anchor="end" fill="#000000" style="font-size:12.5px">3.1</text>
</svg>
</body></html>
